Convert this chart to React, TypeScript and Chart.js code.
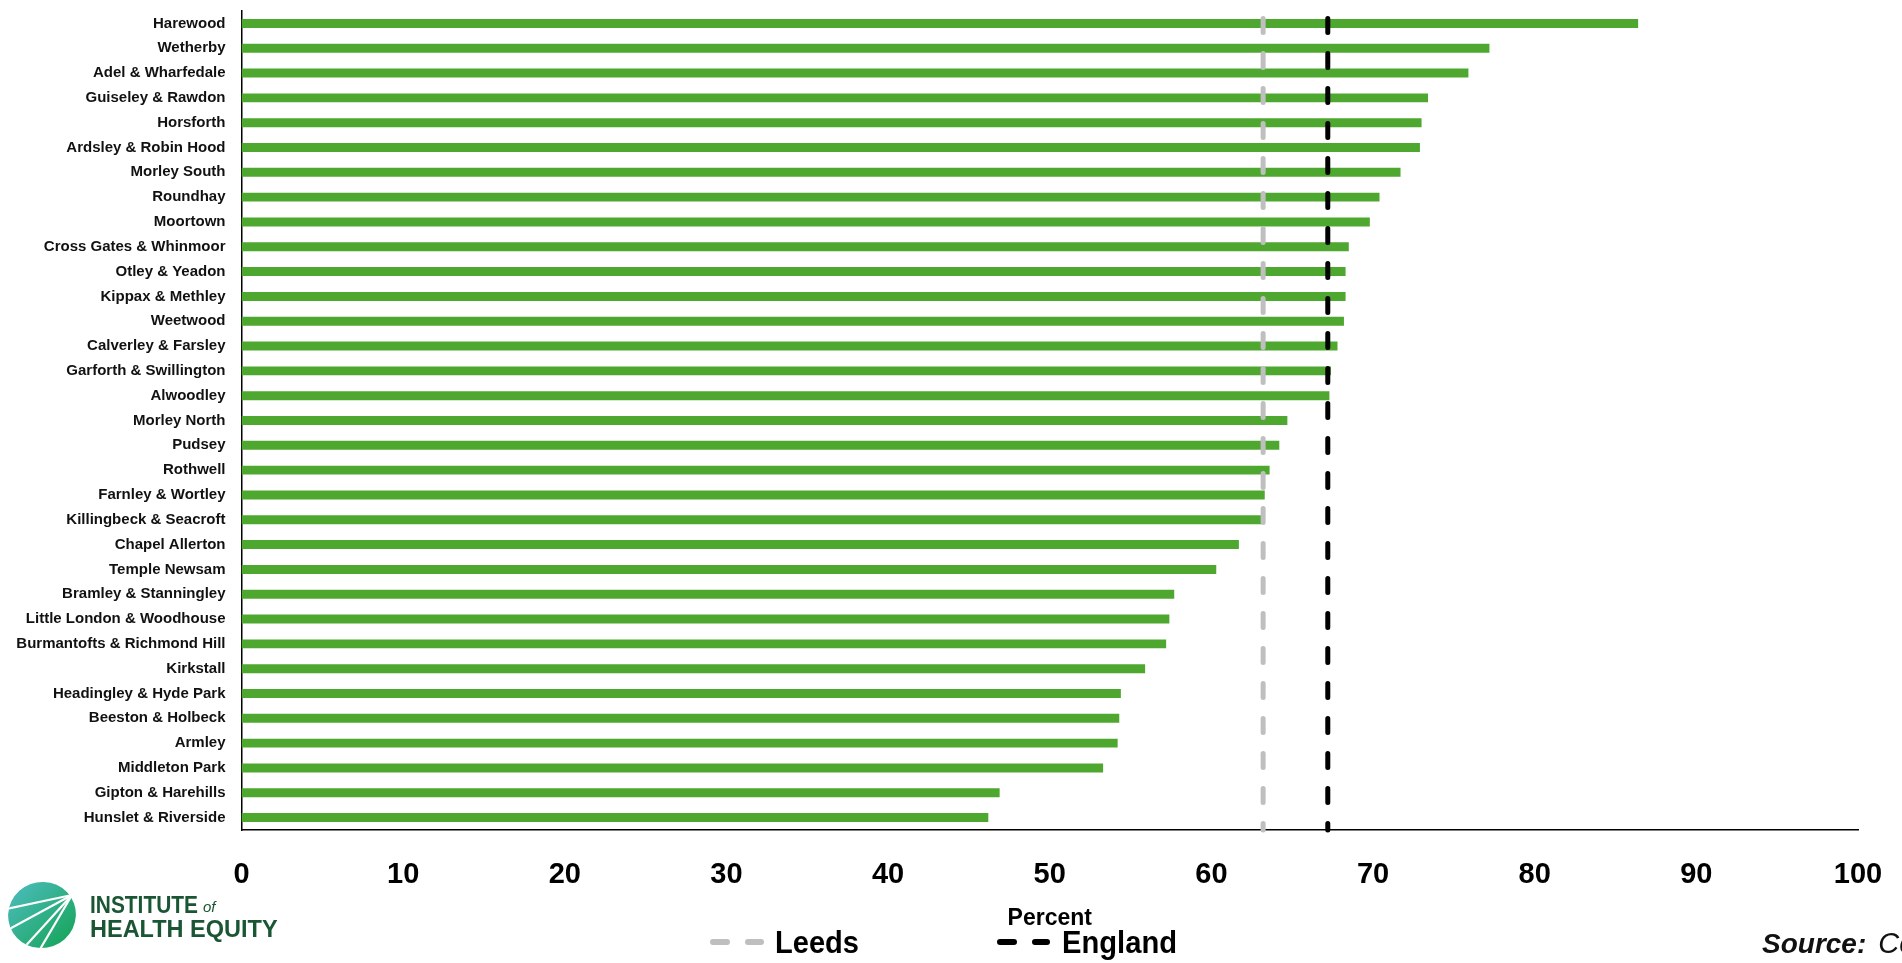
import { useEffect, useRef } from "react";
import { Chart, registerables } from "chart.js";

Chart.register(...registerables);

// Leeds wards, highest to lowest
const wards = [
  "Harewood",
  "Wetherby",
  "Adel & Wharfedale",
  "Guiseley & Rawdon",
  "Horsforth",
  "Ardsley & Robin Hood",
  "Morley South",
  "Roundhay",
  "Moortown",
  "Cross Gates & Whinmoor",
  "Otley & Yeadon",
  "Kippax & Methley",
  "Weetwood",
  "Calverley & Farsley",
  "Garforth & Swillington",
  "Alwoodley",
  "Morley North",
  "Pudsey",
  "Rothwell",
  "Farnley & Wortley",
  "Killingbeck & Seacroft",
  "Chapel Allerton",
  "Temple Newsam",
  "Bramley & Stanningley",
  "Little London & Woodhouse",
  "Burmantofts & Richmond Hill",
  "Kirkstall",
  "Headingley & Hyde Park",
  "Beeston & Holbeck",
  "Armley",
  "Middleton Park",
  "Gipton & Harehills",
  "Hunslet & Riverside",
];

// Ward values, percent
const wardPercent = [
  86.4, 77.2, 75.9, 73.4, 73.0, 72.9, 71.7, 70.4, 69.8, 68.5, 68.3, 68.3,
  68.2, 67.8, 67.4, 67.3, 64.7, 64.2, 63.6, 63.3, 63.1, 61.7, 60.3, 57.7,
  57.4, 57.2, 55.9, 54.4, 54.3, 54.2, 53.3, 46.9, 46.2,
];

// Comparator averages, percent
const leedsPercent = 63.2;
const englandPercent = 67.2;

// x-axis ticks
const xTickValues = [0, 10, 20, 30, 40, 50, 60, 70, 80, 90, 100];

const BAR_GREEN = "#4EA72E";
const LEEDS_GREY = "#BFBFBF";
const ENGLAND_BLACK = "#000000";
const FONT = "'Liberation Sans', Arial, sans-serif";

const comparators = [
  { label: "Leeds", value: leedsPercent, color: LEEDS_GREY },
  { label: "England", value: englandPercent, color: ENGLAND_BLACK },
];

function drawLogo(ctx: CanvasRenderingContext2D) {
  ctx.save();
  ctx.beginPath();
  ctx.ellipse(42, 915, 34, 33, -0.35, 0, Math.PI * 2);
  const g = ctx.createLinearGradient(12, 884, 72, 946);
  g.addColorStop(0, "#4cbcbd");
  g.addColorStop(1, "#15a456");
  ctx.fillStyle = g;
  ctx.fill();
  ctx.clip();
  ctx.strokeStyle = "#ffffff";
  ctx.lineWidth = 2.2;
  const fx = 72;
  const fy = 895;
  const ends = [
    [2, 910],
    [4, 932],
    [20, 952],
    [36, 956],
  ];
  ends.forEach(([ex, ey]) => {
    ctx.beginPath();
    ctx.moveTo(fx, fy);
    ctx.lineTo(ex, ey);
    ctx.stroke();
  });
  ctx.restore();

  ctx.save();
  ctx.fillStyle = "#1b5634";
  ctx.textAlign = "left";
  ctx.textBaseline = "alphabetic";
  ctx.font = `bold 23.5px ${FONT}`;
  ctx.fillText("INSTITUTE", 90, 913, 108);
  ctx.font = `italic 15px ${FONT}`;
  ctx.fillText("of", 203, 912);
  ctx.font = `bold 23.5px ${FONT}`;
  ctx.fillText("HEALTH EQUITY", 90, 937, 190);
  ctx.restore();
}

const overlayPlugin = {
  id: "comparatorOverlay",
  afterDatasetsDraw(chart: any) {
    const { ctx, chartArea, scales } = chart;
    const xs = scales.x;
    ctx.save();
    ctx.lineWidth = 5;
    ctx.lineCap = "round";
    ctx.setLineDash([14, 21]);
    comparators.forEach((c) => {
      const px = xs.getPixelForValue(c.value);
      ctx.strokeStyle = c.color;
      ctx.beginPath();
      ctx.moveTo(px, chartArea.top + 7.5);
      ctx.lineTo(px, chartArea.bottom);
      ctx.stroke();
    });
    ctx.restore();
  },
  afterDraw(chart: any) {
    const { ctx } = chart;

    // Legend
    ctx.save();
    ctx.lineWidth = 6;
    ctx.lineCap = "round";
    ctx.setLineDash([14, 21]);
    const legendItems = [
      { ...comparators[0], x0: 713, x1: 761, tx: 775, tw: 84 },
      { ...comparators[1], x0: 1000, x1: 1047, tx: 1062, tw: 115 },
    ];
    legendItems.forEach((it) => {
      ctx.strokeStyle = it.color;
      ctx.beginPath();
      ctx.moveTo(it.x0, 942);
      ctx.lineTo(it.x1, 942);
      ctx.stroke();
    });
    ctx.setLineDash([]);
    ctx.fillStyle = "#000";
    ctx.font = `bold 32px ${FONT}`;
    ctx.textBaseline = "alphabetic";
    ctx.textAlign = "left";
    legendItems.forEach((it) => {
      ctx.fillText(it.label, it.tx, 953, it.tw);
    });
    ctx.restore();

    // Source line
    ctx.save();
    ctx.fillStyle = "#111";
    ctx.textAlign = "left";
    ctx.textBaseline = "alphabetic";
    ctx.font = `italic bold 28px ${FONT}`;
    ctx.fillText("Source:", 1762, 953);
    const w = ctx.measureText("Source:").width;
    ctx.font = `italic 29px ${FONT}`;
    ctx.fillText("Census 2021", 1762 + w + 12, 953);
    ctx.restore();

    drawLogo(ctx);
  },
};

export default function App() {
  const canvasRef = useRef<HTMLCanvasElement | null>(null);

  useEffect(() => {
    const canvas = canvasRef.current;
    if (!canvas) return;
    const chart = new Chart(canvas, {
      type: "bar",
      data: {
        labels: wards,
        datasets: [
          {
            label: "Ward",
            data: wardPercent,
            backgroundColor: BAR_GREEN,
            borderWidth: 0,
            barPercentage: 0.36,
            categoryPercentage: 1,
          },
        ],
      },
      options: {
        indexAxis: "y",
        responsive: false,
        animation: false,
        events: [],
        layout: { padding: { top: 11, right: 44, left: 0, bottom: 0 } },
        plugins: {
          legend: { display: false },
          tooltip: { enabled: false },
          title: { display: false },
        },
        scales: {
          x: {
            type: "linear",
            min: 0,
            max: 100,
            afterFit: (scale: any) => {
              scale.height = 133;
              scale.paddingLeft = 0;
              scale.paddingRight = 0;
            },
            afterBuildTicks: (scale: any) => {
              scale.ticks = xTickValues.map((v) => ({ value: v }));
            },
            grid: { display: false, drawTicks: false },
            border: { display: true, color: "#000", width: 1.5 },
            ticks: {
              color: "#000",
              padding: 28,
              font: { family: FONT, size: 29, weight: "bold", lineHeight: 1.2 },
            },
            title: {
              display: true,
              text: "Percent",
              color: "#000",
              padding: { top: 0, bottom: 33 },
              font: { family: FONT, size: 23, weight: "bold", lineHeight: 1 },
            },
          },
          y: {
            type: "category",
            afterFit: (scale: any) => {
              scale.width = 241.5;
              scale.paddingTop = 0;
              scale.paddingBottom = 0;
            },
            grid: { display: false, drawTicks: false },
            border: { display: true, color: "#000", width: 1.5 },
            ticks: {
              autoSkip: false,
              color: "#111",
              padding: 16,
              font: { family: FONT, size: 15, weight: "bold" },
            },
          },
        },
      },
      plugins: [overlayPlugin],
    } as any);
    return () => {
      chart.destroy();
    };
  }, []);

  return (
    <div
      style={{
        position: "absolute",
        left: 0,
        top: 0,
        width: 1902,
        height: 963,
        overflow: "hidden",
        background: "#fff",
      }}
    >
      <canvas
        ref={canvasRef}
        width={1902}
        height={963}
        style={{ display: "block", width: 1902, height: 963 }}
      />
    </div>
  );
}
